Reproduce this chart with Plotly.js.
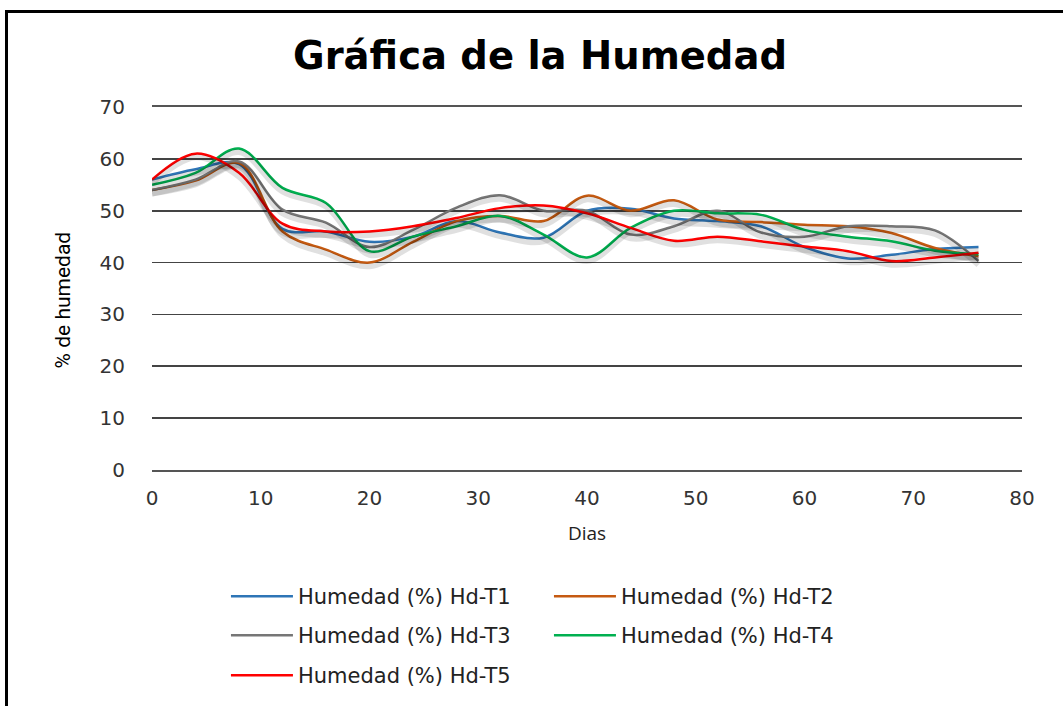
<!DOCTYPE html>
<html>
<head>
<meta charset="utf-8">
<script src="https://cdn.plot.ly/plotly-3.0.1.min.js"></script>
<style>
html,body{margin:0;padding:0;background:#fff;}
#wrap{position:relative;width:1063px;height:706px;overflow:hidden;}
#frame{position:absolute;left:5px;top:10px;width:1070px;height:720px;border-left:3px solid #000;border-top:3px solid #000;pointer-events:none;z-index:5;}
#chart{position:absolute;left:0;top:0;width:1063px;height:706px;}
</style>
</head>
<body>
<div id="wrap"><div id="chart"></div><div id="frame"></div></div>
<script>
const days = [0,4,8,12,16,20,24,28,32,36,40,44,48,52,56,60,64,68,72,76];
const hdT1 = [56,58,59,46.5,46,44,45,48,45.8,44.8,50,50.4,48.5,48,47,43,40.8,41.5,42.6,43];
const hdT2 = [54,55.8,59.2,46,42.5,40,44,48,49,48,52.9,50,52,48.3,47.8,47.3,47,45.7,42.8,41.2];
const hdT3 = [54,56,59.5,50.2,47.7,43,46.3,50.6,53,50,50,45.4,47,50,45.8,45,47,47,46.2,40.3];
const hdT4 = [55,57.3,62,54.4,51.5,42.2,45,47,49,45.4,41,46.7,50,49.5,49.2,46.3,45,44.1,42.3,41.6];
const hdT5 = [56,61,57.3,47.5,46,46,47,48.6,50.5,51,49.5,46.7,44.2,45,44.1,43.1,42.2,40.3,41,41.9];
const seriesNames = ['Humedad (%) Hd-T1','Humedad (%) Hd-T2','Humedad (%) Hd-T3','Humedad (%) Hd-T4','Humedad (%) Hd-T5'];
const seriesVals = [hdT1,hdT2,hdT3,hdT4,hdT5];
const colors = ['#2E75B6','#C55A11','#767676','#00B050','#FF0000'];
const legendOf = ['legend','legend','legend2','legend2','legend3'];

const font = 'DejaVu Sans, Verdana, sans-serif';
const traces = [];
// soft shadows
seriesVals.forEach((v,i)=>{
  traces.push({x:days,y:v,type:'scatter',mode:'lines',xaxis:'x2',yaxis:'y2',
    line:{color:'rgba(0,0,0,0.12)',width:6,shape:'spline',smoothing:1},
    hoverinfo:'skip',showlegend:false});
});
seriesVals.forEach((v,i)=>{
  traces.push({x:days,y:v,type:'scatter',mode:'lines',name:seriesNames[i],
    legend:legendOf[i],
    line:{color:colors[i],width:2.5,shape:'spline',smoothing:1}});
});

const legendBase = {orientation:'h',font:{family:font,size:21,color:'#222'},
  bgcolor:'rgba(0,0,0,0)',entrywidth:246,entrywidthmode:'pixels',itemwidth:62,
  xanchor:'left',yanchor:'middle',x:0.085,traceorder:'normal'};

const layout = {
  width:1063,height:706,
  margin:{l:152,r:41,t:107,b:235},
  paper_bgcolor:'#fff',plot_bgcolor:'#fff',
  showlegend:true,
  title:{text:'<b>Gráfica de la Humedad</b>',x:0.508,xanchor:'center',y:0.922,yanchor:'middle',
    font:{family:'DejaVu Sans, sans-serif',size:38.5,color:'#000'}},
  xaxis:{range:[0,80],dtick:10,tick0:0,showgrid:false,zeroline:false,
    showline:true,mirror:true,linecolor:'#555',linewidth:1.6,
    ticks:'outside',ticklen:9,tickcolor:'rgba(0,0,0,0)',
    tickfont:{family:font,size:20,color:'#333'},
    title:{text:'Dias',font:{family:'Open Sans, sans-serif',size:19,color:'#222'},standoff:18}},
  yaxis:{range:[0,70],dtick:10,tick0:0,showgrid:true,gridcolor:'#444',gridwidth:1.6,
    zeroline:false,showline:false,
    ticks:'outside',ticklen:22,tickcolor:'rgba(0,0,0,0)',
    tickfont:{family:font,size:20,color:'#333'}},
  xaxis2:{range:[0,80],overlaying:'x',visible:false,domain:[0,1]},
  yaxis2:{range:[0.7,70.7],overlaying:'y',visible:false},
  annotations:[{text:'% de humedad',xref:'paper',yref:'paper',x:-0.102,y:0.468,
    xanchor:'center',yanchor:'middle',textangle:-90,showarrow:false,
    font:{family:'Roboto, sans-serif',size:21,color:'#000'}}],
  legend:Object.assign({},legendBase,{y:-0.345}),
  legend2:Object.assign({},legendBase,{y:-0.452}),
  legend3:Object.assign({},legendBase,{y:-0.562})
};
Plotly.newPlot('chart',traces,layout,{displayModeBar:false,staticPlot:true});
</script>
</body>
</html>
